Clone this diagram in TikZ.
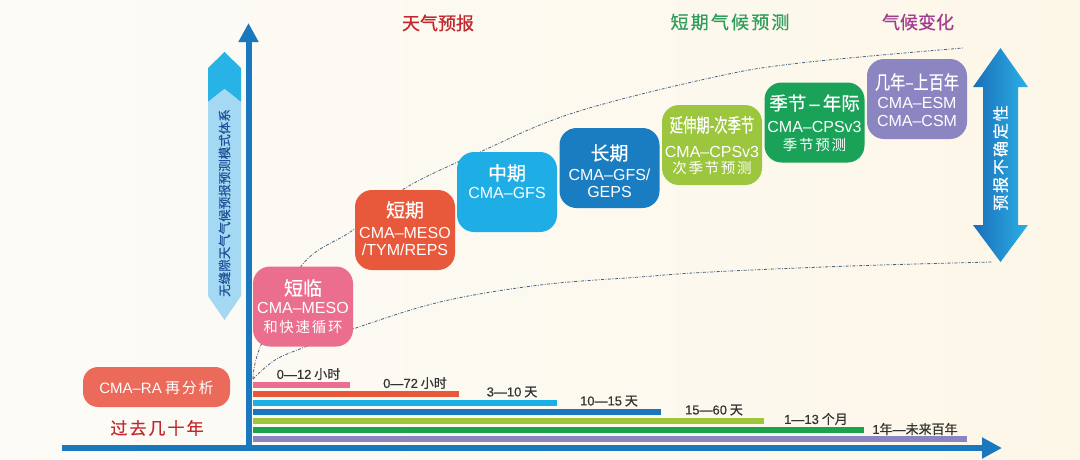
\documentclass[tikz,border=0pt]{standalone}
\usepackage{fontspec}
\usepackage{graphicx}
\setmainfont{Noto Sans CJK SC}
\newfontfamily\lat{Liberation Sans}
\newfontfamily\latm[FakeBold=0.4]{Liberation Sans}
\newfontfamily\cjsp[LetterSpace=12]{Noto Sans CJK SC}
\newfontfamily\cjm[FakeBold=0.6]{Noto Sans CJK SC}
\newfontfamily\cjmsp[FakeBold=0.6,LetterSpace=12]{Noto Sans CJK SC}
\usetikzlibrary{arrows.meta}
\definecolor{bgL}{RGB}{252,251,247}
\definecolor{bgR}{RGB}{253,247,232}
\definecolor{cpink}{RGB}{236,110,143}
\definecolor{cra}{RGB}{235,106,90}
\definecolor{corange}{RGB}{232,88,58}
\definecolor{ccyan}{RGB}{30,174,229}
\definecolor{cblue}{RGB}{27,125,193}
\definecolor{clime}{RGB}{156,198,62}
\definecolor{cgreen}{RGB}{26,162,88}
\definecolor{cpurple}{RGB}{139,133,193}
\definecolor{caxis}{RGB}{26,120,190}
\definecolor{bpink}{RGB}{233,110,145}
\definecolor{borange}{RGB}{232,87,58}
\definecolor{bcyan}{RGB}{25,176,229}
\definecolor{bblue}{RGB}{26,118,190}
\definecolor{blime}{RGB}{157,198,59}
\definecolor{bgreen}{RGB}{26,163,74}
\definecolor{bpurple}{RGB}{138,132,192}
\definecolor{lbdark}{RGB}{39,179,230}
\definecolor{lblight}{RGB}{165,217,243}
\definecolor{vtxt}{RGB}{29,80,150}
\definecolor{curve}{RGB}{70,100,130}
\definecolor{redlbl}{RGB}{193,39,45}
\definecolor{greenlbl}{RGB}{46,158,91}
\definecolor{purplbl}{RGB}{162,60,142}
\definecolor{darrL}{RGB}{26,110,184}
\definecolor{darrR}{RGB}{43,176,230}
\begin{document}
\begin{tikzpicture}[x=1pt,y=-1pt,
  box/.style={rounded corners=17pt, minimum width=100pt, minimum height=80pt, inner sep=0pt},
  ttl/.style={text=white, inner sep=0pt, font=\cjm\fontsize{19}{19}\selectfont},
  lt/.style={text=white, inner sep=0pt, font=\lat\fontsize{16}{16}\selectfont},
  cn/.style={text=white, inner sep=0pt, font=\cjsp\fontsize{14.5}{14.5}\selectfont},
  bl/.style={text=black!80, inner sep=0pt, font=\cjm\fontsize{13}{13}\selectfont},
  toplbl/.style={inner sep=0pt, font=\cjm\fontsize{18}{18}\selectfont},
  axisline/.style={draw=caxis, line width=5.5pt, -{Triangle[width=20pt,length=20pt]}},
  ddot/.style={draw=curve, line width=0.8pt, dash pattern=on 3pt off 1.5pt on 0.8pt off 1.5pt},
  bar/.style={line width=6pt}
]
\fill[left color=bgL, right color=bgR] (0,0) rectangle (1080,459);
\useasboundingbox (0,0) rectangle (1080,459);

% left light-blue arrow
\fill[lbdark] (224.5,52) -- (241,68) -- (241,102) -- (224.5,89) -- (208,102) -- (208,68) -- cycle;
\fill[lblight] (224.5,89) -- (241,102) -- (241,296) -- (224.5,320) -- (208,296) -- (208,102) -- cycle;
\node[rotate=90, text=vtxt, inner sep=0pt, font=\cjm\fontsize{12.5}{12.5}\selectfont] (vt) at (224.5,203) {无缝隙天气气候预报预测模式体系};

% right double arrow
\shade[left color=darrL, right color=darrR] (1000.5,48) -- (1028,87) -- (1018,87) -- (1018,225) -- (1028,225) -- (1000.5,262) -- (973,225) -- (983,225) -- (983,87) -- (973,87) -- cycle;
\node[rotate=90, text=white, inner sep=0pt, font=\cjmsp\fontsize{16}{16}\selectfont] (unc) at (1000.5,158) {预报不确定性};

% dash-dot curves
\coordinate (o) at (253,379);
\coordinate (uend) at (963,48);
\coordinate (lend) at (992,262);
\draw[ddot] plot[smooth, tension=0.6] coordinates {(o) (261,345) (302,265) (353,230) (402,190) (480,152) (573,113) (710,78) (800,63) (uend)};
\draw[ddot] plot[smooth, tension=0.6] coordinates {(o) (275,360) (305,347) (350,330) (440,302) (540,285) (640,277) (710,272) (850,266) (lend)};

% top labels
\node[toplbl, text=redlbl] (lw) at (438,23) {天气预报};
\node[toplbl, text=greenlbl, font=\cjmsp\fontsize{18}{18}\selectfont] (lc) at (730,22) {短期气候预测};
\node[toplbl, text=purplbl] (lcc) at (918,22) {气候变化};

% boxes
\node[box, fill=cpink] (b1) at (303,306.5) {};
\node[ttl] (b1t) at (303,288) {短临};
\node[lt] (b1a) at (303,308) {CMA–MESO};
\node[cn] (b1b) at (303,327) {和快速循环};

\node[box, fill=corange] (b2) at (405,230) {};
\node[ttl] (b2t) at (405,210) {短期};
\node[lt] (b2a) at (405,233) {CMA–MESO};
\node[lt] (b2b) at (405,250) {/TYM/REPS};

\node[box, fill=ccyan] (b3) at (507,192) {};
\node[ttl] (b3t) at (507,173) {中期};
\node[lt] (b3a) at (507,193) {CMA–GFS};

\node[box, fill=cblue] (b4) at (609.5,168) {};
\node[ttl] (b4t) at (609.5,153) {长期};
\node[lt] (b4a) at (609.5,175) {CMA–GFS/};
\node[lt] (b4b) at (609.5,192) {GEPS};

\node[box, fill=clime] (b5) at (712,145) {};
\node[ttl] (b5t) at (712,125) {\scalebox{0.7}[1]{延伸期-次季节}};
\node[lt] (b5a) at (712,152) {CMA–CPSv3};
\node[cn] (b5b) at (712,168) {次季节预测};

\node[box, fill=cgreen] (b6) at (814.5,122.5) {};
\node[ttl, font=\cjm\fontsize{18.5}{18.5}\selectfont] (b6t) at (814.5,103) {季节{\latm\,–\,}年际};
\node[lt] (b6a) at (814.5,127) {CMA–CPSv3};
\node[cn] (b6b) at (814.5,145) {季节预测};

\node[box, fill=cpurple] (b7) at (917,99) {};
\node[ttl] (b7t) at (917,82) {\scalebox{0.8}[1]{几年–上百年}};
\node[lt] (b7a) at (917,103) {CMA–ESM};
\node[lt] (b7b) at (917,121) {CMA–CSM};

% reanalysis
\node[box, fill=cra, minimum width=147pt, minimum height=40pt, rounded corners=15pt] (ra) at (156.5,387) {};
\node[text=white, inner sep=0pt, font=\fontsize{15}{15}\selectfont] (rat) at (156.5,388) {{\lat CMA–RA} {\cjsp 再分析}};
\node[toplbl, text=redlbl, font=\cjmsp\fontsize{17}{17}\selectfont] (past) at (157,428) {过去几十年};

% bars
\draw[bar, bpink] (253,384.5) -- (350,384.5);
\draw[bar, borange] (253,393.5) -- (459,393.5);
\draw[bar, bcyan] (253,402.5) -- (557,402.5);
\draw[bar, bblue] (253,411.5) -- (661,411.5);
\draw[bar, blime] (253,420.5) -- (764,420.5);
\draw[bar, bgreen] (253,429.5) -- (864,429.5);
\draw[bar, bpurple] (253,438.5) -- (967,438.5);

% bar labels
\node[bl] (t1) at (308.5,374) {{\latm 0—12} 小时};
\node[bl] (t2) at (415,383) {{\latm 0—72} 小时};
\node[bl] (t3) at (512,392) {{\latm 3—10} 天};
\node[bl] (t4) at (609,401) {{\latm 10—15} 天};
\node[bl] (t5) at (714,410) {{\latm 15—60} 天};
\node[bl] (t6) at (816,419) {{\latm 1—13} 个月};
\node[bl] (t7) at (915,429) {{\latm 1}年{\latm —}未来百年};

% axes
\coordinate (xs) at (62,448);
\coordinate (xe) at (1002,448);
\coordinate (ys) at (248.5,451);
\coordinate (ye) at (248.5,23);
\draw[axisline] (xs) -- (xe);
\draw[axisline, line width=6pt, -{Triangle[width=19pt,length=19pt]}] (ys) -- (ye);
\end{tikzpicture}
\end{document}
